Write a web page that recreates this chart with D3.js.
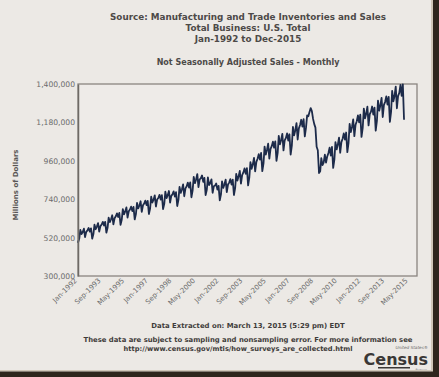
<!DOCTYPE html>
<html>
<head>
<meta charset="utf-8">
<script src="https://cdn.jsdelivr.net/npm/d3@7"></script>
<style>
html,body{margin:0;padding:0;background:#ece9e5;}
svg{display:block;}
text{font-family:"DejaVu Sans",Verdana,sans-serif;}
</style>
</head>
<body>
<svg id="chart" width="439" height="377"></svg>
<script>
// ---- Data (millions of dollars, not seasonally adjusted, monthly) ----
const startMonth = "1992-01";
const v1992 = [490000,513000,564000,540000,552000,571000,523000,553000,561000,575000,554000,573000];
const v1993 = [514000,540000,594000,568000,583000,603000,554000,586000,595000,610000,589000,610000];
const v1994 = [548000,576000,634000,609000,625000,648000,596000,631000,642000,659000,638000,661000];
const v1995 = [593000,622000,683000,653000,670000,693000,635000,671000,681000,697000,672000,696000];
const v1996 = [624000,655000,719000,687000,704000,728000,667000,705000,715000,732000,706000,730000];
const v1997 = [655000,687000,754000,721000,737000,762000,698000,738000,747000,765000,738000,763000];
const v1998 = [683000,713000,783000,746000,763000,787000,720000,759000,769000,785000,755000,780000];
const v1999 = [701000,736000,810000,776000,796000,825000,757000,802000,814000,835000,807000,836000];
const v2000 = [751000,789000,868000,832000,853000,884000,809000,853000,861000,876000,840000,862000];
const v2001 = [764000,794000,865000,821000,833000,854000,777000,814000,818000,830000,795000,816000];
const v2002 = [733000,768000,842000,805000,824000,852000,780000,824000,835000,855000,824000,852000];
const v2003 = [764000,803000,885000,847000,871000,902000,829000,878000,893000,916000,886000,918000];
const v2004 = [819000,863000,952000,914000,940000,977000,899000,954000,972000,998000,967000,1005000];
const v2005 = [901000,945000,1041000,996000,1022000,1058000,972000,1028000,1044000,1070000,1035000,1071000];
const v2006 = [960000,1005000,1103000,1054000,1079000,1114000,1020000,1077000,1091000,1117000,1076000,1112000];
const v2007 = [996000,1047000,1154000,1106000,1135000,1176000,1082000,1146000,1165000,1195000,1156000,1199000];
const v2008 = [1100000,1150000,1220000,1215000,1240000,1262000,1245000,1200000,1170000,1150000,1040000,1020000];
const v2009 = [890000,900000,975000,935000,950000,995000,950000,985000,1005000,1035000,990000,1040000];
const v2010 = [919000,967000,1067000,1025000,1053000,1093000,1006000,1067000,1086000,1117000,1081000,1122000];
const v2011 = [1010000,1062000,1171000,1124000,1154000,1197000,1101000,1167000,1187000,1220000,1180000,1224000];
const v2012 = [1097000,1148000,1259000,1203000,1230000,1270000,1163000,1227000,1242000,1271000,1225000,1265000];
const v2013 = [1133000,1188000,1305000,1247000,1278000,1321000,1211000,1280000,1298000,1329000,1282000,1326000];
const v2014 = [1183000,1240000,1361000,1301000,1331000,1385000,1261000,1332000,1349000,1395000,1332000,1398000];
const v2015 = [1195000];

const yTicks = [300000,520000,740000,960000,1180000,1400000];
const xTickLabels = ["Jan-1992","Sep-1993","May-1995","Jan-1997","Sep-1998","May-2000","Jan-2002",
  "Sep-2003","May-2005","Jan-2007","Sep-2008","May-2010","Jan-2012","Sep-2013","May-2015"];

const titleLines = ["Source: Manufacturing and Trade Inventories and Sales","Total Business: U.S. Total","Jan-1992 to Dec-2015"];
const subtitle = "Not Seasonally Adjusted Sales - Monthly";
const yLabel = "Millions of Dollars";
const footer1 = "Data Extracted on: March 13, 2015 (5:29 pm) EDT";
const footer2 = "These data are subject to sampling and nonsampling error. For more information see";
const footer3 = "http://www.census.gov/mtis/how_surveys_are_collected.html";

// ---- Build series ----
const allValues = [].concat(v1992,v1993,v1994,v1995,v1996,v1997,v1998,v1999,v2000,v2001,v2002,v2003,
  v2004,v2005,v2006,v2007,v2008,v2009,v2010,v2011,v2012,v2013,v2014,v2015);
const parseM = d3.timeParse("%Y-%m");
const parseL = d3.timeParse("%b-%Y");
const t0 = parseM(startMonth);
const series = allValues.map((v,i)=>({date:d3.timeMonth.offset(t0,i), value:v}));

const svg = d3.select("#chart");
const L=78, R=417, T=84, B=276;

const x = d3.scaleTime().domain([parseM("1992-01"), parseM("2015-12")]).range([L,R]);
const y = d3.scaleLinear().domain([300000,1400000]).range([B,T]);

// frame
svg.append("rect").attr("x",L).attr("y",T).attr("width",R-L).attr("height",B-T)
  .attr("fill","#eeebe8").attr("stroke","#8a8580").attr("stroke-width",1.3);

// line
svg.append("path").datum(series)
  .attr("fill","none").attr("stroke","#1d2b4a").attr("stroke-width",1.8)
  .attr("stroke-linejoin","round")
  .attr("d", d3.line().x(d=>x(d.date)).y(d=>y(d.value)));

// y axis
const yAxis = svg.append("g").attr("transform",`translate(${L},0)`)
  .call(d3.axisLeft(y).tickValues(yTicks).tickSize(0).tickPadding(3).tickFormat(d3.format(",")));
yAxis.select(".domain").attr("stroke","#6e6a66").attr("stroke-width",1.5);
yAxis.selectAll("text").attr("fill","#6b6b6b").attr("font-size","7.6px").attr("font-family","DejaVu Sans");

// x axis
const xAxis = svg.append("g").attr("transform",`translate(0,${B})`)
  .call(d3.axisBottom(x).tickValues(xTickLabels.map(s=>parseL(s))).tickSize(0).tickFormat(d3.timeFormat("%b-%Y")));
xAxis.select(".domain").remove();
xAxis.selectAll("text").attr("fill","#6b6b6b").attr("font-size","7px").attr("font-family","DejaVu Sans")
  .attr("text-anchor","end").attr("dy",null).attr("y",0)
  .attr("transform","translate(-1,5) rotate(-45)");

// titles
svg.append("g").selectAll("text").data(titleLines).join("text")
  .attr("x",248).attr("y",(d,i)=>20+i*11.2).attr("text-anchor","middle")
  .attr("font-weight","bold").attr("font-size","8.8px").attr("fill","#4d4a48")
  .text(d=>d);
svg.append("text").attr("x",248).attr("y",65).attr("text-anchor","middle")
  .attr("font-weight","bold").attr("font-size","8px").attr("fill","#4d4a48").text(subtitle);

svg.append("text").attr("transform","translate(18,185) rotate(-90)").attr("text-anchor","middle")
  .attr("font-weight","bold").attr("font-size","7px").attr("fill","#5a5755").text(yLabel);

svg.append("text").attr("x",248).attr("y",328).attr("text-anchor","middle")
  .attr("font-weight","bold").attr("font-size","6.9px").attr("fill","#3f3c3a").text(footer1);
svg.append("text").attr("x",248).attr("y",342).attr("text-anchor","middle")
  .attr("font-weight","bold").attr("font-size","6.85px").attr("fill","#3f3c3a").text(footer2);
svg.append("text").attr("x",238).attr("y",351).attr("text-anchor","middle")
  .attr("font-weight","bold").attr("font-size","6.7px").attr("fill","#3f3c3a").text(footer3);

// Census logo
const logo = svg.append("g");
logo.append("text").attr("x",428).attr("y",348.5).attr("text-anchor","end")
  .attr("font-size","4.2px").attr("font-style","italic").attr("fill","#6a6866").text("United States\u00ae");
logo.append("text").attr("x",428).attr("y",365).attr("text-anchor","end")
  .attr("font-family","Liberation Sans").attr("font-weight","bold").attr("font-size","16px").attr("fill","#3a3836").text("Census");
logo.append("rect").attr("x",378).attr("y",367).attr("width",32).attr("height",1.5).attr("fill","#3a3836");
logo.append("text").attr("x",427).attr("y",370.8).attr("text-anchor","end")
  .attr("font-size","3.2px").attr("fill","#6a6866").text("Bureau");

// photo frame edges
svg.append("rect").attr("x",431).attr("y",0).attr("width",2).attr("height",377).attr("fill","#cfc6b8");
svg.append("rect").attr("x",433).attr("y",0).attr("width",6).attr("height",377).attr("fill","#2e261d");
svg.append("rect").attr("x",0).attr("y",370).attr("width",433).attr("height",1.5).attr("fill","#cfc6b8");
svg.append("rect").attr("x",0).attr("y",371.5).attr("width",439).attr("height",6).attr("fill","#2e261d");
</script>
</body>
</html>
